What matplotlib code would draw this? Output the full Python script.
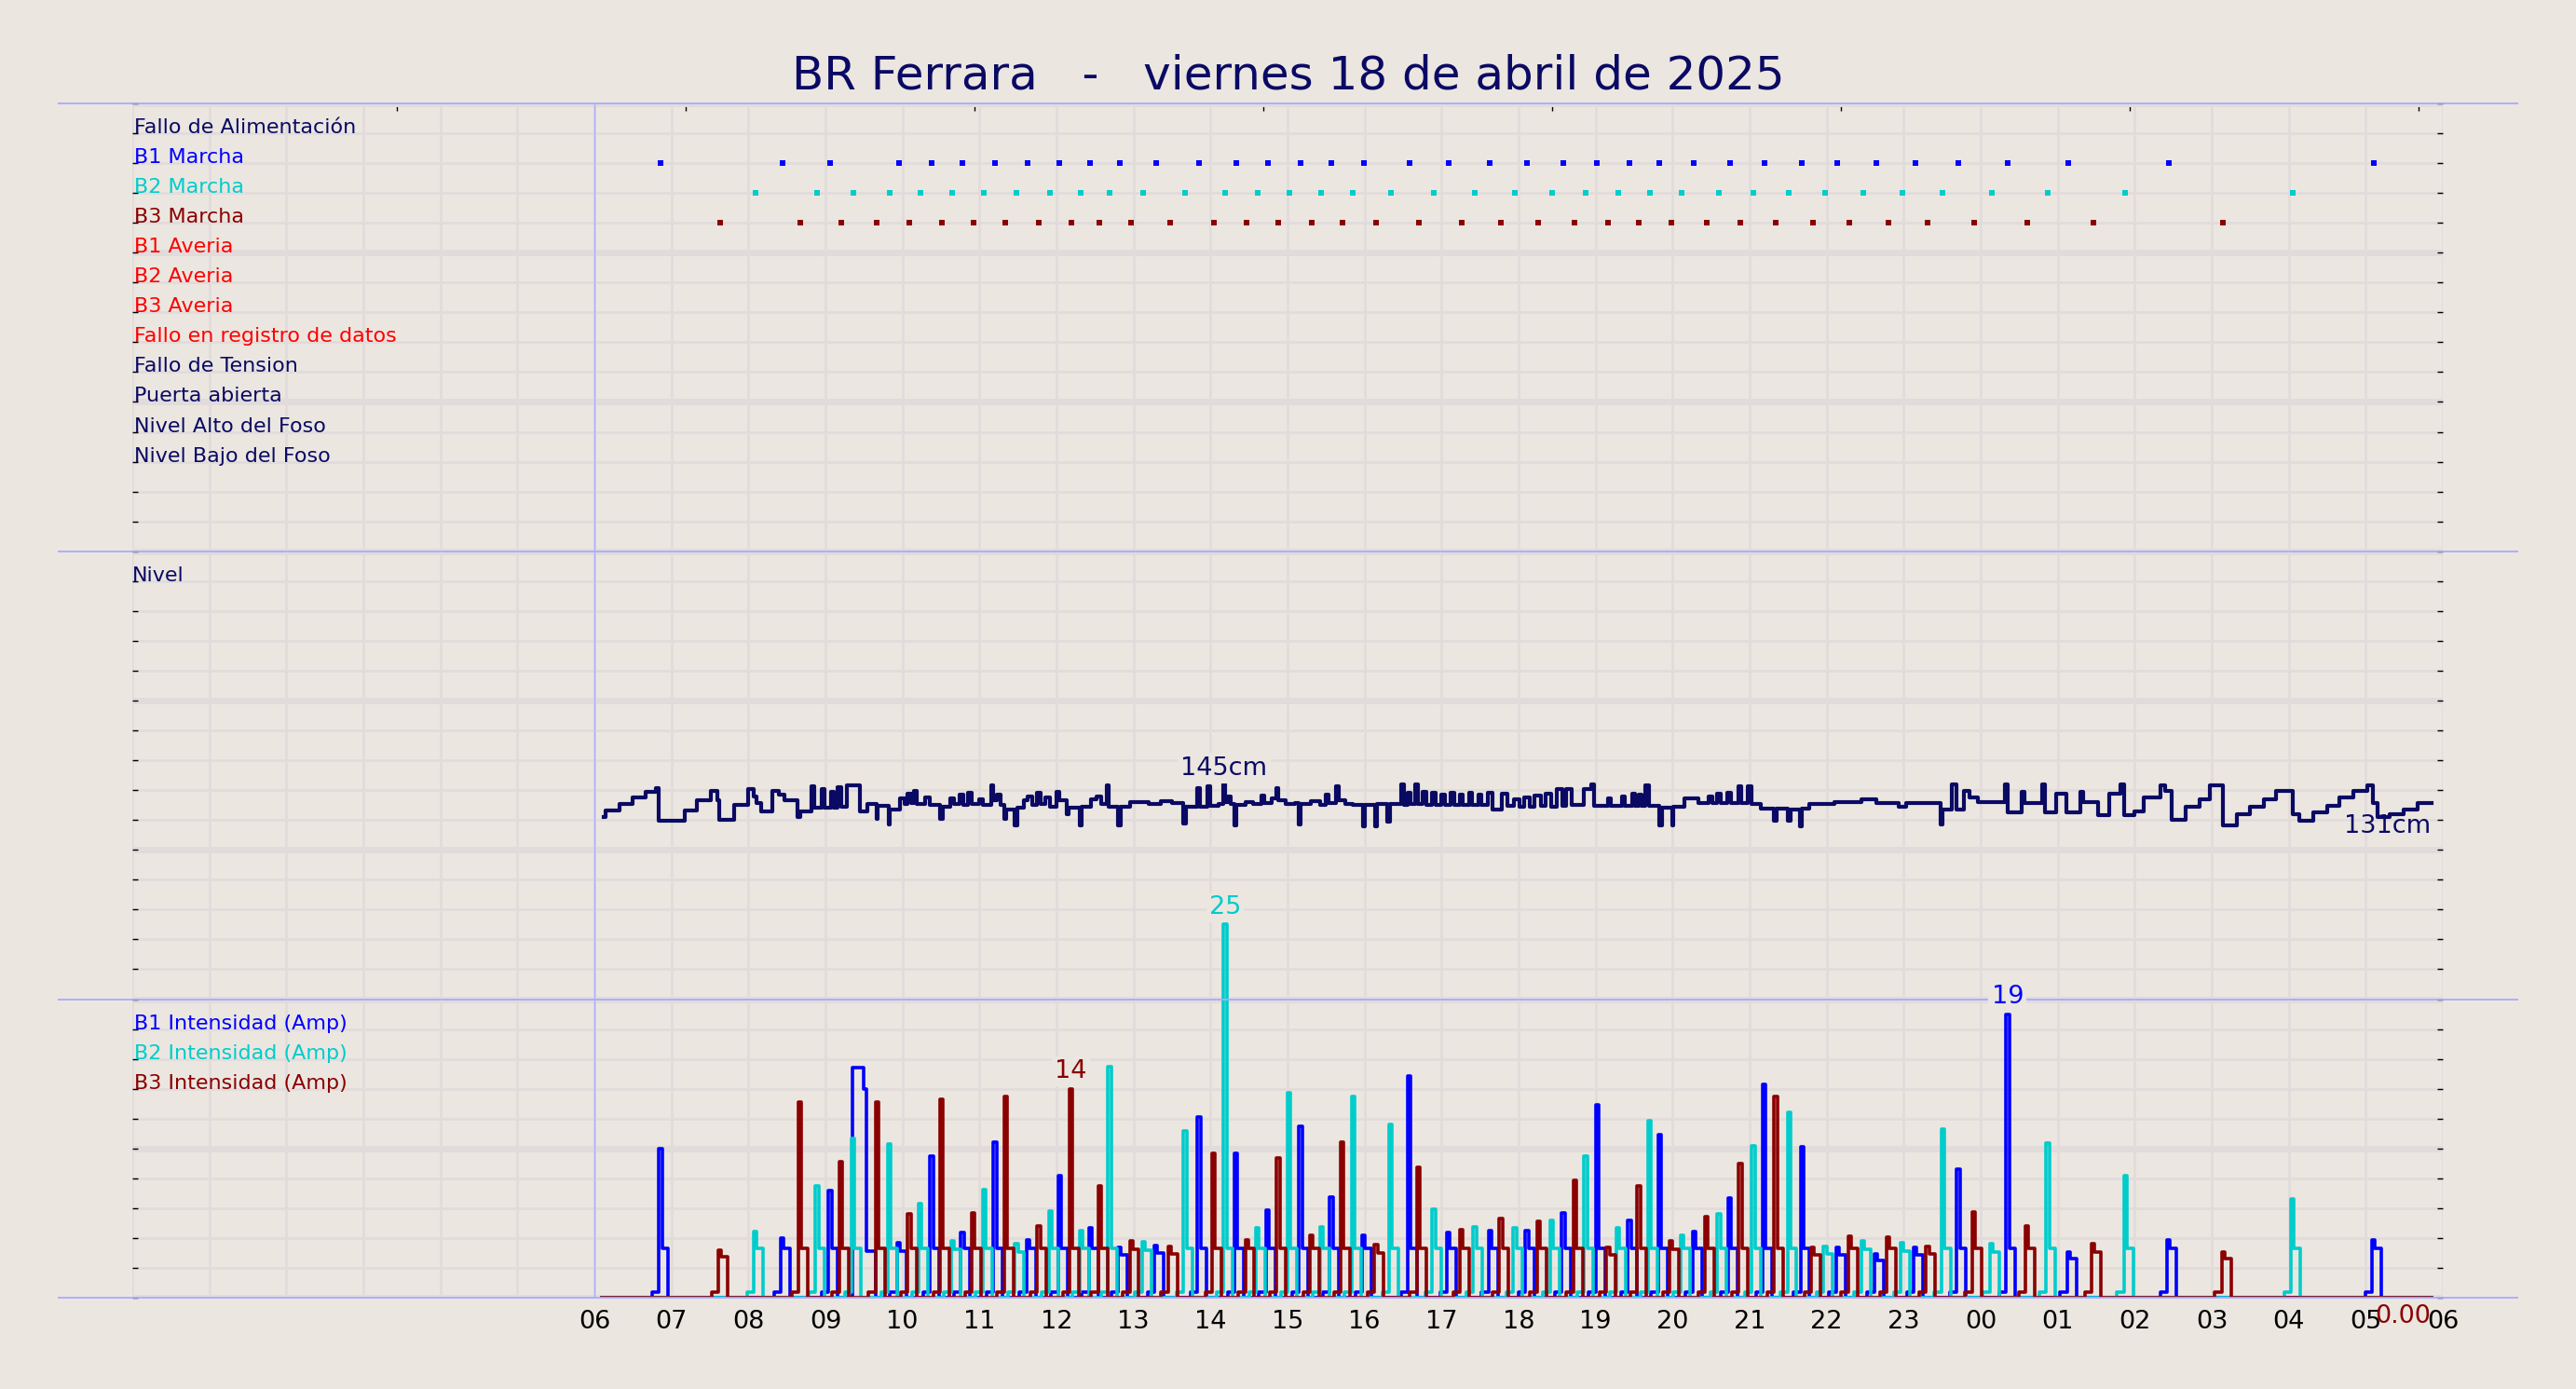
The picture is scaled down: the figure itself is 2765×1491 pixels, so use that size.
import matplotlib
matplotlib.use("Agg")
import matplotlib.pyplot as plt
from matplotlib.ticker import MultipleLocator
import numpy as np

# ---------------------------------------------------------------
# data (time in hours counted from 00:00 18/04)
# ---------------------------------------------------------------
TITLE = "BR Ferrara   -   viernes 18 de abril de 2025"

DIGITAL_LABELS = ["Fallo de Alimentación", "B1 Marcha", "B2 Marcha", "B3 Marcha",
                  "B1 Averia", "B2 Averia", "B3 Averia", "Fallo en registro de datos",
                  "Fallo de Tension", "Puerta abierta", "Nivel Alto del Foso",
                  "Nivel Bajo del Foso"]
DIGITAL_COLORS = ["#0a0a64", "#0000ff", "#00cccc", "#8b0000", "#ff0000", "#ff0000",
                  "#ff0000", "#ff0000", "#0a0a64", "#0a0a64", "#0a0a64", "#0a0a64"]

# pump start events (Marcha)
B1_MARCHA = [6.86, 8.44, 9.06, 9.95, 10.38, 10.78, 11.20, 11.63, 12.04, 12.44, 12.82,
             13.29, 13.85, 14.33, 14.74, 15.17, 15.57, 15.99, 16.58, 17.09, 17.63, 18.11,
             18.58, 19.02, 19.44, 19.83, 20.28, 20.74, 21.19, 21.68, 22.14, 22.64, 23.15,
             23.71, 24.35, 25.14, 26.44, 29.10]
B2_MARCHA = [8.09, 8.89, 9.36, 9.83, 10.23, 10.65, 11.06, 11.48, 11.92, 12.32, 12.69,
             13.13, 13.67, 14.19, 14.61, 15.02, 15.44, 15.85, 16.34, 16.90, 17.43, 17.95,
             18.43, 18.87, 19.29, 19.70, 20.12, 20.60, 21.05, 21.51, 21.98, 22.47, 22.98,
             23.51, 24.14, 24.87, 25.88, 28.05]
B3_MARCHA = [7.63, 8.67, 9.20, 9.67, 10.09, 10.51, 10.92, 11.34, 11.77, 12.19, 12.56,
             12.97, 13.47, 14.04, 14.47, 14.88, 15.31, 15.71, 16.15, 16.70, 17.26, 17.77,
             18.26, 18.73, 19.16, 19.56, 19.98, 20.44, 20.88, 21.34, 21.82, 22.30, 22.80,
             23.31, 23.91, 24.60, 25.46, 27.15]

# peak current (A) of each start
B1_PEAK = [10.0, 4.0, 7.2, 3.7, 9.5, 4.35, 10.4, 3.9, 8.2, 4.65, 3.35, 3.5, 12.1, 9.65,
           5.85, 11.5, 6.75, 4.2, 14.85, 4.35, 4.5, 4.5, 5.7, 12.9, 5.15, 10.95, 4.45,
           6.65, 14.3, 10.1, 3.35, 2.95, 3.35, 8.6, 19.0, 3.05, 3.9, 3.9]
B2_PEAK = [4.45, 7.5, 10.7, 10.3, 6.3, 3.8, 7.25, 3.6, 5.8, 4.5, 15.5, 3.75, 11.2, 25.0,
           4.65, 13.7, 4.75, 13.5, 11.6, 5.9, 4.75, 4.7, 5.2, 9.5, 4.65, 11.85, 4.2, 5.6,
           10.2, 12.4, 3.45, 3.8, 3.7, 11.3, 3.6, 10.35, 8.15, 6.6]
B3_PEAK = [3.2, 13.1, 9.1, 13.1, 5.6, 13.3, 5.7, 13.5, 4.8, 14.0, 7.5, 3.8, 3.45, 9.7,
           3.9, 9.35, 4.15, 10.4, 3.55, 8.75, 4.55, 5.3, 5.1, 7.85, 3.4, 7.5, 3.8, 5.45,
           9.0, 13.45, 3.4, 4.1, 4.05, 3.45, 5.75, 4.8, 3.6, 3.05]

# one long B1 run without a start mark
B1_LONG_T = [9.35, 9.50, 9.53, 9.65]
B1_LONG_A = [15.4, 14.0, 3.1, 0.0]

PRE_A = 0.4        # small current before a start
PLATEAU_A = 3.3    # running current after the inrush

# pit level (cm), step changes
LEVEL_H = [6.12, 6.15, 6.33, 6.49, 6.66, 6.80, 6.84, 7.17, 7.33, 7.51, 7.60, 7.62, 7.82,
           7.99, 8.07, 8.10, 8.16, 8.31, 8.40, 8.47, 8.64, 8.67, 8.82, 8.86, 8.95, 8.99,
           9.07, 9.11, 9.16, 9.20, 9.28, 9.45, 9.55, 9.66, 9.68, 9.82, 9.84, 9.97, 10.03,
           10.07, 10.11, 10.15, 10.19, 10.29, 10.36, 10.49, 10.52, 10.62, 10.67, 10.74,
           10.79, 10.85, 10.90, 10.99, 11.05, 11.15, 11.18, 11.22, 11.27, 11.32, 11.35,
           11.46, 11.49, 11.58, 11.63, 11.68, 11.74, 11.79, 11.85, 11.92, 12.00, 12.04,
           12.13, 12.16, 12.30, 12.33, 12.45, 12.52, 12.58, 12.65, 12.68, 12.80, 12.83,
           12.95, 13.20, 13.35, 13.50, 13.65, 13.68, 13.83, 13.86, 13.96, 13.99, 14.10,
           14.16, 14.19, 14.22, 14.26, 14.31, 14.34, 14.45, 14.55, 14.66, 14.70, 14.80,
           14.85, 14.88, 14.97, 15.10, 15.14, 15.17, 15.30, 15.42, 15.50, 15.53, 15.63,
           15.66, 15.75, 15.85, 15.98, 16.00, 16.14, 16.16, 16.30, 16.33, 16.48, 16.51,
           16.56, 16.60, 16.66, 16.69, 16.76, 16.80, 16.88, 16.92, 17.00, 17.04, 17.12,
           17.16, 17.24, 17.28, 17.36, 17.40, 17.48, 17.52, 17.60, 17.66, 17.78, 17.86,
           17.94, 18.01, 18.07, 18.15, 18.21, 18.29, 18.35, 18.42, 18.49, 18.57, 18.62,
           18.69, 18.85, 18.94, 18.98, 19.16, 19.20, 19.34, 19.38, 19.47, 19.51, 19.56,
           19.60, 19.65, 19.69, 19.83, 19.86, 19.99, 20.01, 20.15, 20.33, 20.47, 20.52,
           20.58, 20.63, 20.71, 20.76, 20.85, 20.89, 20.98, 21.02, 21.14, 21.31, 21.35,
           21.49, 21.53, 21.65, 21.68, 21.78, 22.10, 22.45, 22.65, 22.93, 23.03, 23.48,
           23.51, 23.63, 23.68, 23.78, 23.86, 23.96, 24.31, 24.35, 24.53, 24.57, 24.80,
           24.84, 24.98, 25.11, 25.29, 25.33, 25.52, 25.67, 25.82, 25.86, 25.99, 26.12,
           26.33, 26.39, 26.48, 26.66, 26.84, 26.98, 27.14, 27.33, 27.50, 27.68, 27.83,
           28.05, 28.14, 28.32, 28.50, 28.66, 28.84, 29.02, 29.09, 29.15, 29.31, 29.49,
           29.67, 29.85]
LEVEL_CM = [134.0, 136.2, 138.3, 140.4, 142.3, 143.8, 132.8, 136.2, 139.7, 142.6, 139.5,
            133.0, 138.1, 143.3, 141.0, 138.6, 136.0, 142.8, 141.4, 139.5, 134.0, 136.0,
            144.4, 137.0, 143.5, 137.0, 142.5, 137.0, 144.0, 137.5, 144.6, 136.0, 138.5,
            133.5, 137.8, 131.5, 136.5, 140.2, 138.3, 141.8, 138.8, 142.8, 138.5, 140.5,
            138.0, 133.5, 137.5, 140.3, 138.5, 141.5, 138.0, 142.0, 138.5, 140.0, 138.0,
            144.5, 139.5, 141.5, 138.0, 133.5, 136.5, 131.2, 137.0, 139.5, 141.0, 138.0,
            142.0, 138.5, 140.5, 137.5, 142.5, 139.5, 134.8, 137.2, 131.2, 137.5, 139.8,
            140.8, 138.5, 144.5, 137.5, 131.3, 137.3, 139.0, 138.5, 139.2, 138.8, 131.8,
            137.5, 143.8, 137.5, 144.4, 137.8, 138.5, 145.0, 139.0, 141.0, 138.5, 131.2,
            138.0, 139.0, 138.3, 141.2, 138.8, 140.2, 143.8, 139.5, 138.5, 138.8, 131.6,
            138.5, 139.2, 138.0, 141.5, 138.8, 144.4, 139.5, 138.5, 138.2, 131.0, 138.2,
            131.0, 138.3, 132.5, 138.5, 144.9, 138.0, 142.0, 138.5, 144.8, 138.5, 142.5,
            138.0, 142.0, 138.0, 141.5, 138.0, 142.0, 138.0, 141.5, 138.0, 142.0, 138.0,
            141.5, 138.0, 142.0, 136.5, 141.8, 137.6, 140.0, 137.3, 140.7, 137.3, 141.2,
            137.6, 141.8, 137.3, 143.3, 137.6, 143.3, 138.0, 143.3, 144.9, 137.6, 140.2,
            137.6, 141.0, 137.6, 141.8, 137.6, 141.5, 137.6, 144.6, 137.8, 131.3, 137.2,
            131.3, 137.5, 140.2, 138.6, 141.0, 138.6, 141.8, 138.6, 142.0, 138.6, 144.4,
            138.6, 144.4, 138.3, 136.9, 132.9, 136.9, 132.9, 136.5, 131.0, 136.8, 138.3,
            139.1, 139.9, 138.8, 137.3, 138.8, 131.6, 136.5, 144.9, 136.5, 142.8, 140.4,
            139.1, 144.9, 135.5, 142.3, 138.6, 144.9, 135.5, 141.8, 135.5, 142.3, 139.1,
            134.5, 141.8, 144.9, 134.5, 136.0, 140.7, 144.6, 142.8, 133.1, 137.3, 140.0,
            144.6, 131.3, 135.0, 137.3, 140.0, 142.6, 135.0, 132.9, 135.5, 137.6, 140.4,
            142.6, 144.6, 138.6, 133.9, 134.8, 136.5, 138.8, 138.8]

HOUR_LABELS = ["06", "07", "08", "09", "10", "11", "12", "13", "14", "15", "16", "17",
               "18", "19", "20", "21", "22", "23", "00", "01", "02", "03", "04", "05", "06"]

# ---------------------------------------------------------------
BG = "#ebe6e0"
GRID = "#e1dcdb"
SEP = "#aaaaff"
NAVY = "#0a0a64"
C_B1, C_B2, C_B3 = "#0000ff", "#00cccc", "#8b0000"

AMP_SCALE = 0.5               # amps -> panel units
LEVEL_SCALE, LEVEL_OFFSET = 0.1, 2.7
TOP_TICKS = [3.44, 7.19, 10.94, 14.69, 18.44, 22.19, 25.94, 29.69]


def pulse_steps(starts, peaks, t0, t1, extra_t=(), extra_a=()):
    pts = [(t0, 0.0)]
    for s, p in zip(starts, peaks):
        plateau = min(PLATEAU_A, 0.85 * p)
        pts += [(s - 0.11, PRE_A), (s - 0.02, p), (s + 0.02, plateau), (s + 0.10, 0.0)]
    pts += list(zip(extra_t, extra_a))
    pts.append((t1, 0.0))
    pts.sort()
    t, v = zip(*pts)
    return np.array(t), np.array(v)


def main():
    fig = plt.figure(figsize=(27.65, 14.91), dpi=100, facecolor=BG)
    ax = fig.add_axes([142 / 2765, 98 / 1491, 2480 / 2765, 1282 / 1491], facecolor=BG)
    ax.set_xlim(0, 30)
    ax.set_ylim(0, 40)
    for s in ax.spines.values():
        s.set_visible(False)

    # grid
    ax.yaxis.set_major_locator(MultipleLocator(5))
    ax.yaxis.set_minor_locator(MultipleLocator(1))
    ax.grid(which="major", axis="y", color=GRID, lw=5, zorder=0)
    ax.grid(which="minor", axis="y", color=GRID, lw=2, zorder=0)
    ax.set_xticks(range(31))
    ax.set_xticklabels([""] * 6 + HOUR_LABELS)
    ax.grid(which="major", axis="x", color=GRID, lw=2, zorder=0)
    ax.set_axisbelow(True)
    ax.tick_params(axis="y", which="both", direction="in", length=4.5, width=1,
                   left=True, right=True, labelleft=False, color="black")
    ax.tick_params(axis="x", length=0, pad=9, labelsize=19.5, colors="black")

    sec = ax.secondary_xaxis("top")
    sec.set_xticks(TOP_TICKS)
    sec.tick_params(direction="in", length=5.5, width=1, labeltop=False)
    sec.spines["top"].set_visible(False)

    # panel separators
    ax.hlines([0, 10, 25, 40], -0.97, 30.98, colors=SEP, lw=1.3, clip_on=False, zorder=4)
    ax.vlines(6, 0, 40, colors=SEP, lw=1.0, zorder=1)

    # digital signals
    for i, (lab, col) in enumerate(zip(DIGITAL_LABELS, DIGITAL_COLORS)):
        ax.text(0.02, 39 - i, lab, color=col, fontsize=16, ha="left", va="baseline")
    for row, times, col in [(38, B1_MARCHA, C_B1), (37, B2_MARCHA, C_B2), (36, B3_MARCHA, C_B3)]:
        ax.plot(times, [row] * len(times), "s", ms=3.8, mew=0, color=col, zorder=3)

    # level
    ax.text(0.0, 24, "Nivel", color=NAVY, fontsize=16, ha="left", va="baseline")
    lev = np.array(LEVEL_CM)
    lev_y = lev * LEVEL_SCALE + LEVEL_OFFSET
    ax.plot(LEVEL_H, lev_y, drawstyle="steps-post", color=NAVY, lw=3.0, zorder=3)
    box = dict(boxstyle="square,pad=0.12", fc=BG, ec="none")
    imax = int(np.argmax(lev))
    xmax = (LEVEL_H[imax] + LEVEL_H[imax + 1]) / 2
    ax.annotate(f"{lev[imax]:.0f}cm", (xmax, lev_y[imax]), xytext=(0, 3),
                textcoords="offset points", ha="center", va="bottom", fontsize=19.5,
                color=NAVY, bbox=box, zorder=6)
    ax.annotate(f"{lev.min():.0f}cm", (LEVEL_H[-1], lev.min() * LEVEL_SCALE + LEVEL_OFFSET),
                ha="right", va="center", fontsize=19.5, color=NAVY, zorder=6)

    # pump currents
    labels = ["B1 Intensidad (Amp)", "B2 Intensidad (Amp)", "B3 Intensidad (Amp)"]
    series = [(B1_MARCHA, B1_PEAK, C_B1, B1_LONG_T, B1_LONG_A),
              (B2_MARCHA, B2_PEAK, C_B2, (), ()),
              (B3_MARCHA, B3_PEAK, C_B3, (), ())]
    for k, (lab, (st, pk, col, et, ea)) in enumerate(zip(labels, series)):
        ax.text(0.02, 9 - k, lab, color=col, fontsize=16, ha="left", va="baseline")
        t, v = pulse_steps(st, pk, 6.1, LEVEL_H[-1], et, ea)
        ax.plot(t, v * AMP_SCALE, drawstyle="steps-post", color=col, lw=2.6, zorder=3)
        j = int(np.argmax(pk))
        ax.annotate(f"{pk[j]:.0f}", (st[j], pk[j] * AMP_SCALE), xytext=(0, 4),
                    textcoords="offset points", ha="center", va="bottom", fontsize=19.5,
                    color=col, bbox=box, zorder=6)

    ax.annotate("0.00", (LEVEL_H[-1], 0), xytext=(0, -5), textcoords="offset points",
                ha="right", va="top", fontsize=19.5, color=C_B3, annotation_clip=False)

    fig.text(0.5, 1 - 81 / 1491, TITLE, ha="center", va="center", fontsize=36, color=NAVY)

    fig.savefig("out.png", dpi=100, facecolor=BG)
    plt.close(fig)


if __name__ == "__main__":
    main()
